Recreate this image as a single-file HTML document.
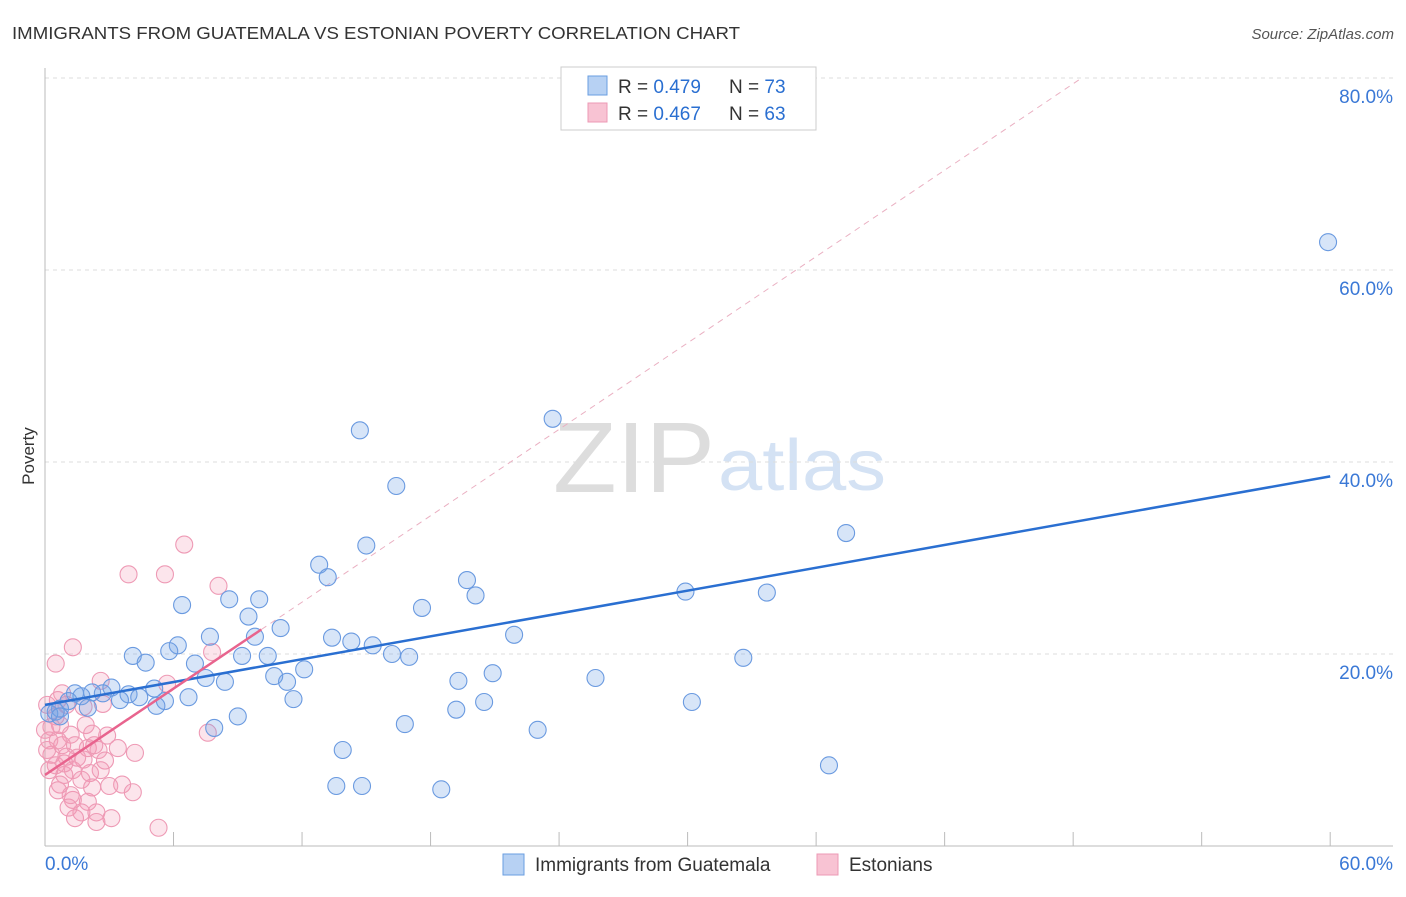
<!DOCTYPE html>
<html><head><meta charset="utf-8"><style>
body{margin:0;background:#fff;font-family:"Liberation Sans",sans-serif}
svg text{font-family:"Liberation Sans",sans-serif}
</style></head><body>
<svg id="c" width="1406" height="892">
<text x="12" y="39" font-size="17.5" fill="#333" textLength="728" lengthAdjust="spacingAndGlyphs">IMMIGRANTS FROM GUATEMALA VS ESTONIAN POVERTY CORRELATION CHART</text>
<text x="1394" y="39" font-size="15" fill="#555" font-style="italic" text-anchor="end">Source: ZipAtlas.com</text>
<text x="34" y="456" font-size="17" fill="#333" text-anchor="middle" transform="rotate(-90 34 456)">Poverty</text>
<text x="553" y="492" font-size="100" fill="#ddd" font-family="Liberation Serif" textLength="162" lengthAdjust="spacingAndGlyphs">ZIP</text>
<text x="718" y="490" font-size="72" fill="#d4e2f4" textLength="168" lengthAdjust="spacingAndGlyphs">atlas</text>
<g id="grid"></g><g id="marks"></g>
<g>
<rect x="561" y="67" width="255" height="63" fill="#fff" stroke="#ccc"/>
<rect x="588" y="76" width="19" height="19" fill="#b7d1f3" stroke="#6a9ee0"/>
<rect x="588" y="103" width="19" height="19" fill="#f8c3d3" stroke="#ec9ab5"/>
<text x="618" y="93" font-size="19" fill="#333">R = <tspan fill="#2a6fd1">0.479</tspan></text>
<text x="729" y="93" font-size="19" fill="#333">N = <tspan fill="#2a6fd1">73</tspan></text>
<text x="618" y="120" font-size="19" fill="#333">R = <tspan fill="#2a6fd1">0.467</tspan></text>
<text x="729" y="120" font-size="19" fill="#333">N = <tspan fill="#2a6fd1">63</tspan></text>
</g>
<g>
<rect x="503" y="854" width="21" height="21" fill="#b7d1f3" stroke="#6a9ee0"/>
<text x="535" y="871" font-size="19" fill="#333">Immigrants from Guatemala</text>
<rect x="817" y="854" width="21" height="21" fill="#f8c3d3" stroke="#ec9ab5"/>
<text x="849" y="871" font-size="19" fill="#333">Estonians</text>
</g>
</svg>
<script>
const xTicks=[0,60];
const yTicks=[20,40,60,80];
const blueX=[59.9,23.7,14.7,16.4,37.4,15.0,12.8,13.2,19.7,20.1,29.9,33.7,6.4,8.6,10.0,9.5,17.6,11.0,7.7,6.2,9.8,13.4,14.3,15.3,21.9,4.1,4.7,5.8,7.0,9.2,10.4,16.2,17.0,12.1,20.9,32.6,10.7,11.3,7.5,8.4,19.3,25.7,5.1,3.1,3.9,1.4,2.2,2.7,1.7,3.5,4.4,6.7,5.6,5.2,1.1,0.7,2.0,0.2,0.5,11.6,20.5,30.2,19.2,9.0,16.8,7.9,23.0,13.9,36.6,13.6,14.8,18.5,0.7];
const blueY=[62.9,44.5,43.3,37.5,32.6,31.3,29.3,28.0,27.7,26.1,26.5,26.4,25.1,25.7,25.7,23.9,24.8,22.7,21.8,20.9,21.8,21.7,21.3,20.9,22.0,19.8,19.1,20.3,19.0,19.8,19.8,20.0,19.7,18.4,18.0,19.6,17.7,17.1,17.5,17.1,17.2,17.5,16.4,16.5,15.8,15.9,16.0,15.9,15.6,15.2,15.5,15.5,15.1,14.6,15.1,14.3,14.4,13.8,14.0,15.3,15.0,15.0,14.2,13.5,12.7,12.3,12.1,10.0,8.4,6.25,6.25,5.9,13.5];
const pinkX=[6.5,3.9,5.6,8.1,1.3,0.5,7.8,2.6,5.7,0.8,2.7,1.8,0.1,0.5,0.7,0,1.2,2.2,2.9,0.2,0.8,1.4,2.0,2.5,3.4,4.2,7.6,0.3,1.0,1.8,2.8,0.5,1.3,2.1,0.2,0.9,1.7,0.7,2.2,3.6,4.1,0.6,1.3,2.0,1.1,1.7,2.4,1.4,3.1,2.4,5.3,0.1,0.3,0.6,1.0,1.5,2.6,0.9,3.0,1.2,0.6,2.3,1.9];
const pinkY=[31.4,28.3,28.3,27.1,20.7,19.0,20.2,17.2,16.9,15.9,14.8,14.5,14.7,13.5,12.6,12.1,11.6,11.7,11.5,11.0,10.5,10.5,10.2,10.0,10.2,9.7,11.8,9.5,9.3,9.0,8.9,8.4,7.9,7.6,7.9,7.4,6.9,6.4,6.1,6.4,5.6,5.8,4.8,4.6,4.0,3.5,3.5,2.9,2.9,2.5,1.9,10.0,12.4,15.2,14.7,9.2,7.9,8.6,6.25,5.3,11.0,10.5,12.6];
const blueFit=[14.7,38.5];
const pinkFit=[7.4,1.5];
const X=v=>45+v*21.42, Y=v=>846-v*9.6;
const NS='http://www.w3.org/2000/svg';
function mk(t,a,p){const e=document.createElementNS(NS,t);for(const k in a)e.setAttribute(k,a[k]);p.appendChild(e);return e;}
const g=document.getElementById('grid'),m=document.getElementById('marks');
yTicks.forEach(v=>{
 const l=mk('line',{x1:45,x2:1393,y1:Y(v),y2:Y(v),stroke:'#ddd','stroke-dasharray':'4,4'},g);
 
 
 const t=mk('text',{x:1393,y:Y(v)+25,'font-size':19,fill:'#3a78d6','text-anchor':'end'},g);t.textContent=v.toFixed(1)+'%';
 
 
});
mk('line',{x1:45,x2:45,y1:68,y2:846,stroke:'#bbb'},g);
mk('line',{x1:45,x2:1393,y1:846,y2:846,stroke:'#bbb'},g);
for(let i=0;i<=10;i++){mk('line',{x1:X(i*6),x2:X(i*6),y1:832,y2:846,stroke:'#bbb'},g);}
xTicks.forEach((v,i)=>{const t=mk('text',{x:i?1393:45,y:870,'font-size':19,fill:'#3a78d6','text-anchor':i?'end':'start'},g);t.textContent=v.toFixed(1)+'%';
 
 });
const pd=mk('line',{x1:X(10.1),y1:Y(pinkFit[0]+pinkFit[1]*10.1),x2:X((80-pinkFit[0])/pinkFit[1]),y2:Y(80),stroke:'#eab0c2','stroke-dasharray':'6,5','stroke-width':1},m);


pinkX.forEach((x,i)=>{const c=mk('circle',{cx:X(x),cy:Y(pinkY[i]),r:8.5,fill:'rgba(242,150,180,0.25)',stroke:'#ee9ab5','stroke-width':1.1},m);
 
 });
blueX.forEach((x,i)=>{const c=mk('circle',{cx:X(x),cy:Y(blueY[i]),r:8.5,fill:'rgba(110,160,230,0.28)',stroke:'#6a9ae0','stroke-width':1.1},m);
 
 });
const bl=mk('line',{x1:X(0),y1:Y(blueFit[0]),x2:X(60),y2:Y(blueFit[1]),stroke:'#2a6fd1','stroke-width':2.5},m);


const pl=mk('line',{x1:X(0),y1:Y(pinkFit[0]),x2:X(10.1),y2:Y(pinkFit[0]+pinkFit[1]*10.1),stroke:'#e8648e','stroke-width':2.5},m);


</script>
</body></html>
